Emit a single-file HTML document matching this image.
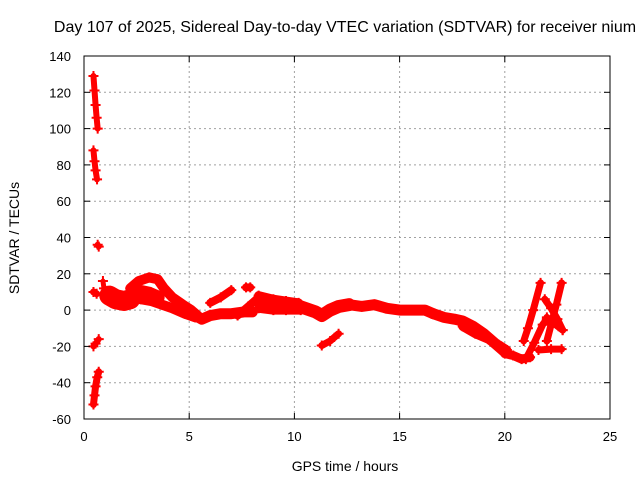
<!DOCTYPE html>
<html><head><meta charset="utf-8"><style>
body{margin:0;background:#fff}
svg text{font-family:"Liberation Sans",sans-serif;fill:#000}
</style></head><body>
<svg id="c" width="640" height="480">
<text x="345" y="32" font-size="16" text-anchor="middle">Day 107 of 2025, Sidereal Day-to-day VTEC variation (SDTVAR) for receiver nium</text>
<text x="345" y="471" font-size="14" text-anchor="middle">GPS time / hours</text>
<text transform="translate(19,238) rotate(-90)" font-size="14" text-anchor="middle">SDTVAR / TECUs</text>
<g id="grid"></g><g id="marks"></g><g id="axes"></g>
</svg>
<script>
const xTicks=[0,5,10,15,20,25];
const yTicks=[-60,-40,-20,0,20,40,60,80,100,120,140];
const trackSteepHigh=[[0.45,129],[0.5,121],[0.55,113],[0.6,106],[0.65,100]];
const trackSteepMid=[[0.45,88],[0.5,82],[0.55,77],[0.62,72]];
const trackSpot36=[[0.65,36],[0.7,35]];
const trackSpot10=[[0.45,10],[0.6,9]];
const trackNeg20=[[0.45,-20],[0.55,-18.5],[0.7,-16]];
const trackNeg50=[[0.45,-52],[0.5,-47],[0.55,-42],[0.63,-37],[0.7,-34]];
const trackEarly=[[0.9,16],[0.95,12]];
const trackBlob1=[[1.2,8],[1.5,6],[1.9,5],[2.2,6]];
const trackArcUpper=[[2.2,12],[2.6,16],[3.1,18],[3.5,17],[3.8,12],[4.2,7],[4.7,3],[5.1,0],[5.4,-3]];
const trackArcLower=[[2.2,7],[2.7,6],[3.2,5],[3.7,3],[4.2,1],[4.8,-2],[5.3,-4]];
const trackWedge=[[2.3,9],[2.7,10],[3.1,9],[3.5,7]];
const trackDip=[[5.3,-3],[5.6,-5],[6.0,-3],[6.5,-2],[7.0,-2],[7.6,-1],[8.0,-1]];
const trackRise1=[[6.0,4],[6.5,7],[7.0,11]];
const trackRise2=[[7.3,-3],[7.8,2],[8.2,6]];
const trackSpot12=[[7.7,12.5],[7.9,12.5]];
const trackMid=[[8.3,5],[8.8,4],[9.4,3],[10.0,3],[10.5,1],[11.0,-1],[11.3,-3],[11.7,0],[12.1,2],[12.6,3]];
const trackMidHigh=[[8.3,8],[9.0,6],[9.6,5],[10.2,4]];
const trackMidLow=[[8.3,1],[9.0,0],[9.6,0],[10.3,0]];
const trackLowSeg=[[11.3,-19.5],[11.7,-17],[12.1,-13]];
const trackFlat=[[12.6,3],[13.2,2],[13.8,3],[14.4,1],[15.0,0],[15.6,0],[16.2,0],[16.6,-2]];
const trackDecline=[[16.6,-2],[17.1,-4],[17.6,-5],[18.0,-6],[18.5,-9],[19.0,-13],[19.5,-18],[20.0,-23]];
const trackDecline2=[[18.0,-9],[18.6,-13],[19.2,-16],[19.7,-19],[20.1,-22]];
const trackBottom=[[20.0,-24],[20.4,-25],[20.8,-27],[21.2,-26]];
const trackUp1=[[20.9,-17],[21.1,-10],[21.35,0],[21.7,15]];
const trackUp2=[[22.0,-17],[22.2,-8],[22.45,3],[22.7,15]];
const trackCross=[[21.9,6],[22.2,1],[22.5,-5],[22.75,-11]];
const trackX2=[[22.0,-4],[22.3,-7],[22.75,-11]];
const trackDiag=[[21.0,-27],[21.4,-18],[21.8,-8],[22.0,-5]];
const trackBar=[[21.6,-22],[22.2,-21.5],[22.7,-21.5]];
const tracks=[trackSteepHigh,trackSteepMid,trackSpot36,trackSpot10,trackNeg20,trackNeg50,trackEarly,trackBlob1,trackArcUpper,trackArcLower,trackWedge,trackDip,trackRise1,trackRise2,trackSpot12,trackMid,trackMidHigh,trackMidLow,trackLowSeg,trackFlat,trackDecline,trackDecline2,trackBottom,trackUp1,trackUp2,trackCross,trackX2,trackDiag,trackBar];
const widths=[6,6,6,7,6,7,5,20,10,10,14,11,8,8,8,13,9,9,7,11,11,9,9,7,7,7,7,7,7];
const X0=84,X1=610,Y0=419,Y1=56;
const sx=t=>X0+(t-0)/25*(X1-X0);
const sy=v=>Y0-(v+60)/200*(Y0-Y1);
const NS='http://www.w3.org/2000/svg';
function mk(tag,attrs,parent){const e=document.createElementNS(NS,tag);for(const k in attrs)e.setAttribute(k,attrs[k]);parent.appendChild(e);return e;}
const grid=document.getElementById('grid'),marks=document.getElementById('marks'),axes=document.getElementById('axes');
xTicks.forEach(t=>{const x=sx(t);
 if(t>0&&t<25){const g=mk('line',{x1:x,x2:x,y1:Y1,y2:Y0,stroke:'#a0a0a0','stroke-dasharray':'2,3'},grid);
 
 }
 mk('line',{x1:x,x2:x,y1:Y0,y2:Y0-6,stroke:'#000'},axes);
 mk('line',{x1:x,x2:x,y1:Y1,y2:Y1+6,stroke:'#000'},axes);
 const l=mk('text',{x:x,y:Y0+22,'font-size':13,'text-anchor':'middle'},axes);l.textContent=t;
 
 });
yTicks.forEach(v=>{const y=sy(v);
 if(v>-60&&v<140){const g=mk('line',{x1:X0,x2:X1,y1:y,y2:y,stroke:'#a0a0a0','stroke-dasharray':'2,3'},grid);
 
 }
 mk('line',{x1:X0,x2:X0+6,y1:y,y2:y,stroke:'#000'},axes);
 mk('line',{x1:X1,x2:X1-6,y1:y,y2:y,stroke:'#000'},axes);
 const l=mk('text',{x:X0-13,y:y+5,'font-size':13,'text-anchor':'end'},axes);l.textContent=v;
 
 });
const fr=mk('rect',{x:X0,y:Y1,width:X1-X0,height:Y0-Y1,fill:'none',stroke:'#000'},axes);


tracks.forEach((tr,i)=>{
 const pl=mk('polyline',{points:tr.map(p=>sx(p[0])+','+sy(p[1])).join(' '),fill:'none',stroke:'#f00','stroke-width':widths[i],'stroke-linecap':'round','stroke-linejoin':'round'},marks);
 
 
 tr.forEach(p=>{const x=sx(p[0]),y=sy(p[1]);
  const m=mk('path',{d:`M${x-5},${y}H${x+5}M${x},${y-5}V${y+5}`,stroke:'#f00','stroke-width':2},marks);
  
  });
});
</script>
</body></html>
